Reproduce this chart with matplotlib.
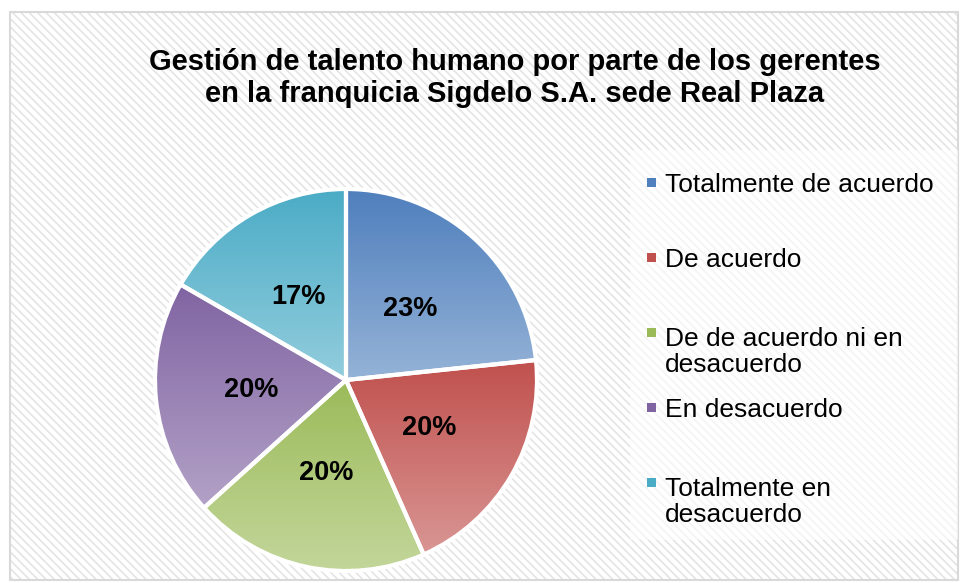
import matplotlib
matplotlib.use('Agg')
from matplotlib import pyplot as plt
from matplotlib.patches import Rectangle
from matplotlib.colors import LinearSegmentedColormap
import numpy as np

plt.rcParams['font.family'] = ['Liberation Sans', 'DejaVu Sans']
plt.rcParams['hatch.linewidth'] = 1.2

# data
title = 'Gestión de talento humano por parte de los gerentes\nen la franquicia Sigdelo S.A. sede Real Plaza'
categories = ['Totalmente de acuerdo',
              'De acuerdo',
              'De de acuerdo ni en\ndesacuerdo',
              'En desacuerdo',
              'Totalmente en\ndesacuerdo']
counts = [7, 6, 6, 6, 5]
# gradient colors (top, bottom) for each slice
top_colors = ['#4F7FBD', '#C0504D', '#9BBB59', '#8064A2', '#4BACC6']
bottom_colors = ['#95B3D7', '#D99694', '#C3D69B', '#B3A2C7', '#93CDDD']

W, H = 960, 583
fig = plt.figure(figsize=(W / 100, H / 100), dpi=100)
fig.patch.set_facecolor('white')

# hatched chart area background + border
bg = Rectangle((10 / W, 1 - 580 / H), 948 / W, 568 / H, transform=fig.transFigure,
               facecolor='white', edgecolor='#E4E4E4', hatch='\\\\\\\\', linewidth=0, zorder=0)
fig.add_artist(bg)
border = Rectangle((10 / W, 1 - 580 / H), 948 / W, 568 / H, transform=fig.transFigure,
                   facecolor='none', edgecolor='#D9D9D9', linewidth=1.5, zorder=1)
fig.add_artist(border)

# legend area (semi-transparent white)
legbox = Rectangle((630 / W, 1 - 540 / H), 328 / W, 390 / H, transform=fig.transFigure,
                   facecolor='white', edgecolor='none', alpha=0.6, zorder=1)
fig.add_artist(legbox)

# title
fig.text(515 / W, 1 - 78 / H, title, ha='center', va='center', fontsize=21,
         fontweight='bold', linespacing=1.2, zorder=3)

# pie
cx, cy, r = 346, 380, 191
ax = fig.add_axes([(cx - r) / W, (H - cy - r) / H, 2 * r / W, 2 * r / H])
ax.set_facecolor('none')
wedges, texts, autotexts = ax.pie(counts, startangle=90, counterclock=False,
                                  autopct='%1.0f%%', pctdistance=0.5,
                                  wedgeprops=dict(edgecolor='white', linewidth=3, clip_on=False),
                                  textprops=dict(fontsize=19.5, fontweight='bold', color='black'))

grad = np.linspace(0, 1, 256).reshape(-1, 1)
for w, c0, c1 in zip(wedges, top_colors, bottom_colors):
    w.set_facecolor('none')
    ext = w.get_path().get_extents(w.get_patch_transform())
    cmap = LinearSegmentedColormap.from_list('g', [c1, c0])
    im = ax.imshow(grad, cmap=cmap, origin='lower', aspect='auto',
                   extent=[ext.x0, ext.x1, ext.y0, ext.y1], zorder=0.5,
                   interpolation='bilinear')
    im.set_clip_path(w)
ax.set_xlim(-1.0, 1.0)
ax.set_ylim(-1.0, 1.0)
for t in autotexts:
    t.set_zorder(3)
ax.axis('off')

# legend drawn manually: each entry starts 75 px below the previous one
line_h = 30
for i, (lab, col) in enumerate(zip(categories, top_colors)):
    base = 192 + 75 * i + line_h * lab.count('\n')
    fig.text(665 / W, 1 - base / H, lab, ha='left', va='baseline', fontsize=19,
             linespacing=1.13, zorder=3)
    sq = Rectangle((647 / W, 1 - 187 / H - 75 * i / H), 9 / W, 9 / H,
                   transform=fig.transFigure, facecolor=col, edgecolor='none', zorder=3)
    fig.add_artist(sq)

plt.savefig('out.png', dpi=100)
